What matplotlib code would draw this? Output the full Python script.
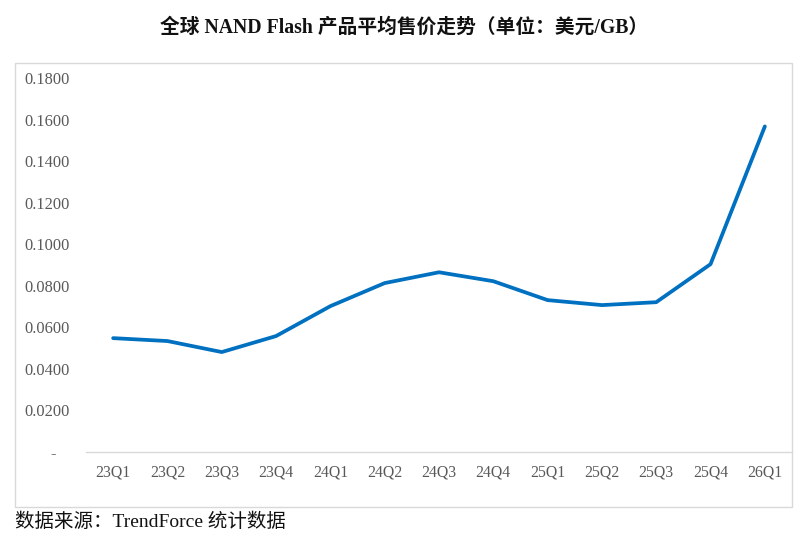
import matplotlib
matplotlib.use('Agg')
import matplotlib.pyplot as plt
from matplotlib.patches import Rectangle

plt.rcParams['font.family'] = ['Liberation Serif', 'Noto Sans CJK SC']

# Quarterly average selling price (USD/GB)
quarters = ['23Q1', '23Q2', '23Q3', '23Q4', '24Q1', '24Q2', '24Q3',
            '24Q4', '25Q1', '25Q2', '25Q3', '25Q4', '26Q1']
asp = [0.0548, 0.0534, 0.0481, 0.0558, 0.0702, 0.0813, 0.0865,
       0.0822, 0.0731, 0.0707, 0.0721, 0.0904, 0.1567]
y_ticks = [0, 0.02, 0.04, 0.06, 0.08, 0.10, 0.12, 0.14, 0.16, 0.18]

W, H = 812, 543
fig = plt.figure(figsize=(W / 100, H / 100), dpi=100)

# axes box in pixel coords
left, right, top, bottom = 86, 792, 78, 452
ax = fig.add_axes([left / W, 1 - bottom / H, (right - left) / W, (bottom - top) / H])

ax.plot(range(len(quarters)), asp, color='#0070c0', lw=2.7,
        solid_capstyle='round', solid_joinstyle='round', clip_on=False)

ax.set_xlim(-0.5, len(quarters) - 0.5)
ax.set_ylim(0, 0.18)
ax.set_xticks(range(len(quarters)))
ax.set_xticklabels(quarters)
ax.set_yticks(y_ticks)
ax.set_yticklabels(['-   '] + [f'{v:.4f}' for v in y_ticks[1:]])

ax.tick_params(axis='both', length=0, labelcolor='#595959')
ax.tick_params(axis='y', pad=12, labelsize=11.8)
ax.tick_params(axis='x', pad=9, labelsize=11.3)

for s in ['top', 'right', 'left']:
    ax.spines[s].set_visible(False)
ax.spines['bottom'].set_color('#d9d9d9')
ax.spines['bottom'].set_linewidth(1)

# chart area border
bx0, by0, bx1, by1 = 15, 63, 792, 507
fig.patches.append(Rectangle((bx0 / W, 1 - by1 / H), (bx1 - bx0) / W, (by1 - by0) / H,
                             transform=fig.transFigure, fill=False,
                             edgecolor='#d9d9d9', lw=1))

fig.text(404 / W, 1 - 28 / H, '全球 NAND Flash 产品平均售价走势（单位：美元/GB）',
         ha='center', va='center', fontsize=14.2, fontweight='bold', color='#111111')
fig.text(15 / W, 1 - 522 / H, '数据来源：TrendForce 统计数据',
         ha='left', va='center', fontsize=14, color='#111111')

fig.savefig('out.png', dpi=100)
